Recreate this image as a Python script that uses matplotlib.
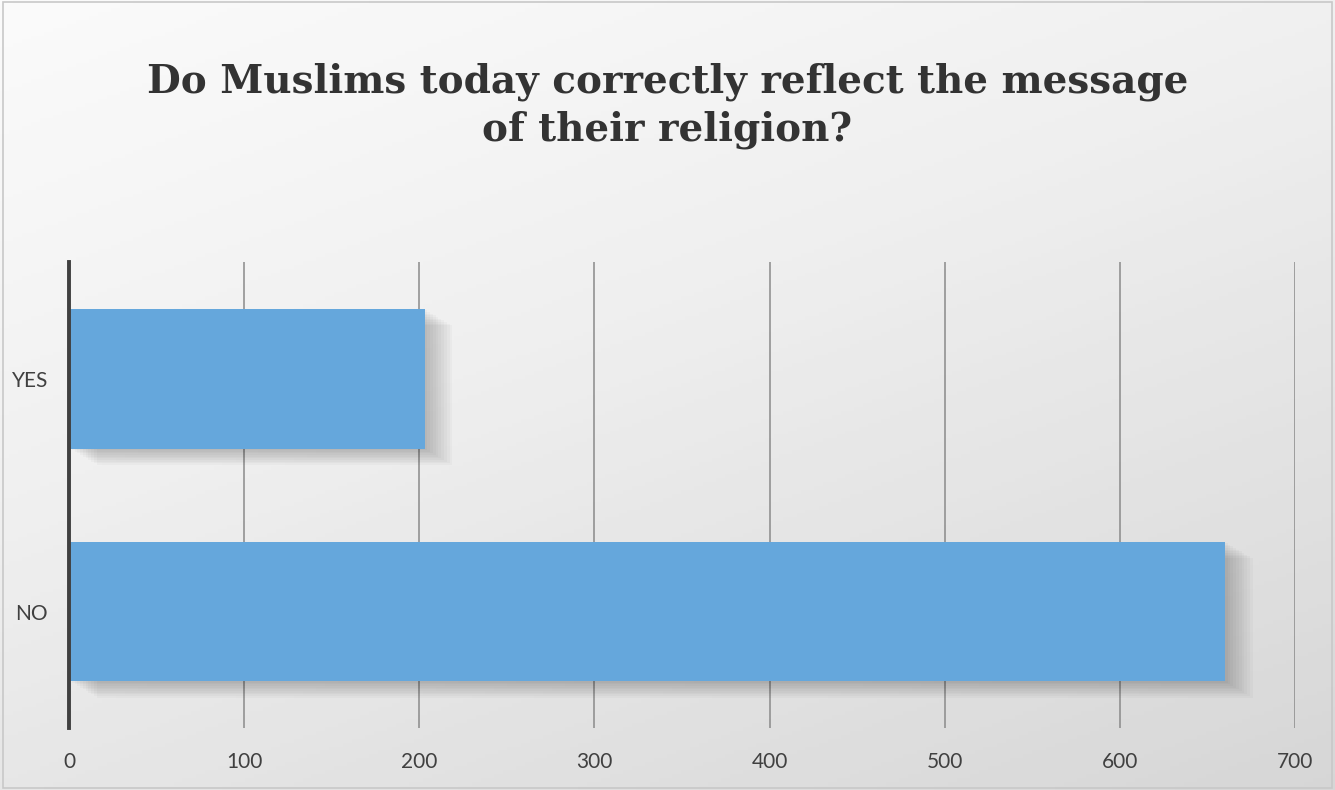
import numpy as np
import matplotlib.pyplot as plt
import matplotlib.patheffects as pe
from matplotlib.patches import Rectangle

# data
categories = ['NO', 'YES']
counts = [660, 203]
xticks = [0, 100, 200, 300, 400, 500, 600, 700]
title = 'Do Muslims today correctly reflect the message\nof their religion?'

fig = plt.figure(figsize=(13.35, 7.9), dpi=100)

# background gradient (white top-left to light gray bottom-right)
bg = fig.add_axes([0, 0, 1, 1], zorder=-10)
yy, xx = np.mgrid[0:1:200j, 0:1:300j]
grad = 0.62 * yy + 0.38 * xx
bg.imshow(grad, cmap='Greys', vmin=-0.15, vmax=4.2, aspect='auto',
          extent=[0, 1, 0, 1], origin='upper')
bg.set_axis_off()
fig.patches.append(Rectangle((0.002, 0.003), 0.996, 0.994, transform=fig.transFigure,
                             fill=False, edgecolor='#c8c8c8', lw=1.2))

ax = fig.add_axes([0.0517, 0.0785, 0.9183, 0.5895])
ax.patch.set_alpha(0)

# soft shadow built from stacked offset shadows
shadow = [pe.SimplePatchShadow(offset=(2 + i, -1 - 0.6 * i), shadow_rgbFace='black', alpha=0.022)
          for i in range(0, 20, 2)]
ax.barh(categories, counts, height=0.6, color='#65a7dc', zorder=3,
        path_effects=shadow + [pe.Normal()])

ax.set_xlim(0, 700)
ax.set_ylim(-0.5, 1.5)
ax.set_xticks(xticks)
ax.grid(axis='x', color='#8a8a8a', lw=1.1, zorder=0)
ax.set_axisbelow(True)

for s in ['top', 'right', 'bottom']:
    ax.spines[s].set_visible(False)
ax.spines['left'].set_color('#404040')
ax.spines['left'].set_linewidth(2.8)
ax.spines['left'].set_zorder(5)

ax.tick_params(axis='both', length=0, labelsize=15, labelcolor='#404040')
ax.tick_params(axis='x', pad=17)
ax.tick_params(axis='y', pad=15)
for lab in ax.get_xticklabels() + ax.get_yticklabels():
    lab.set_fontfamily('Lato')

fig.text(0.5, 0.866, title, ha='center', va='center', fontsize=28,
         fontweight='bold', family='DejaVu Serif', color='#333333',
         linespacing=1.3)

fig.savefig('out.png', dpi=100)
